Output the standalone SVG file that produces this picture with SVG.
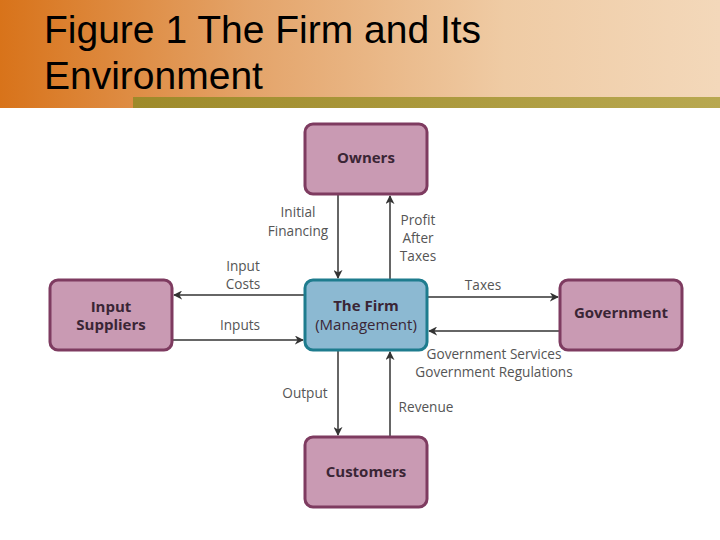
<svg xmlns="http://www.w3.org/2000/svg" width="720" height="540" viewBox="0 0 720 540">
<defs>
<linearGradient id="hdr" x1="0" y1="0" x2="1" y2="0">
<stop offset="0" stop-color="#D8731A"/>
<stop offset="0.35" stop-color="#E4A46A"/>
<stop offset="0.7" stop-color="#EFCBA4"/>
<stop offset="1" stop-color="#F3D8BA"/>
</linearGradient>
<linearGradient id="bar" x1="0" y1="0" x2="1" y2="0">
<stop offset="0" stop-color="#9E8A2A"/>
<stop offset="1" stop-color="#B8A850"/>
</linearGradient>
<marker id="ah" viewBox="0 0 10 10" refX="9" refY="5" markerWidth="9" markerHeight="9" markerUnits="userSpaceOnUse" orient="auto">
<path d="M0,0 L10,5 L0,10 L3,5 Z" fill="#333"/>
</marker>
<style>
.title{font-family:"Liberation Sans",Arial,sans-serif;font-size:39px;fill:#000}
.box{fill:#C99AB3;stroke:#7E3B60;stroke-width:3}
.firm{fill:#8CB9D2;stroke:#1E7C8E;stroke-width:3}
.nl{font-family:"Open Sans","Noto Sans",sans-serif;font-weight:bold;font-size:15px;fill:#3A2535;text-anchor:middle}
.nl2{font-family:"Open Sans","Noto Sans",sans-serif;font-size:15px;fill:#3A2535;text-anchor:middle}
.lbl{font-family:"Open Sans","Noto Sans",sans-serif;font-size:13.6px;fill:#555;text-anchor:middle}
.c{stroke:#333;stroke-width:1.5;fill:none;marker-end:url(#ah)}
</style>
</defs>
<rect x="0" y="0" width="720" height="540" fill="#fff"/>
<rect x="0" y="0" width="720" height="108" fill="url(#hdr)"/>
<rect x="133" y="97" width="587" height="11" fill="url(#bar)"/>
<text class="title" x="44" y="43">Figure 1 The Firm and Its</text>
<text class="title" x="44" y="89">Environment</text>

<g id="connectors">
<line class="c" x1="338" y1="195" x2="338" y2="278"/>
<line class="c" x1="390" y1="280" x2="390" y2="196"/>
<line class="c" x1="305" y1="295" x2="174" y2="295"/>
<line class="c" x1="172" y1="340" x2="303" y2="340"/>
<line class="c" x1="427" y1="297" x2="558" y2="297"/>
<line class="c" x1="560" y1="331" x2="429" y2="331"/>
<line class="c" x1="338" y1="350" x2="338" y2="435"/>
<line class="c" x1="390" y1="437" x2="390" y2="352"/>
</g>
<g id="labels">
<text class="lbl" x="298" y="217">Initial</text>
<text class="lbl" x="298" y="236">Financing</text>
<text class="lbl" x="418" y="225">Profit</text>
<text class="lbl" x="418" y="243">After</text>
<text class="lbl" x="418" y="261">Taxes</text>
<text class="lbl" x="243" y="271">Input</text>
<text class="lbl" x="243" y="289">Costs</text>
<text class="lbl" x="240" y="330">Inputs</text>
<text class="lbl" x="483" y="290">Taxes</text>
<text class="lbl" x="494" y="359">Government Services</text>
<text class="lbl" x="494" y="377">Government Regulations</text>
<text class="lbl" x="305" y="398">Output</text>
<text class="lbl" x="426" y="412">Revenue</text>
</g>

<g id="owners">
<rect class="box" x="305" y="124" width="122" height="70" rx="8"/>
<text class="nl" x="366" y="163">Owners</text>
</g>
<g id="input-suppliers">
<rect class="box" x="50" y="280" width="122" height="70" rx="8"/>
<text class="nl" x="111" y="312">Input</text>
<text class="nl" x="111" y="330">Suppliers</text>
</g>
<g id="the-firm">
<rect class="firm" x="305" y="280" width="122" height="70" rx="8"/>
<text class="nl" x="366" y="311">The Firm</text>
<text class="nl2" x="366" y="330">(Management)</text>
</g>
<g id="government">
<rect class="box" x="560" y="280" width="122" height="70" rx="8"/>
<text class="nl" x="621" y="318">Government</text>
</g>
<g id="customers">
<rect class="box" x="305" y="437" width="122" height="70" rx="8"/>
<text class="nl" x="366" y="477">Customers</text>
</g>
</svg>
